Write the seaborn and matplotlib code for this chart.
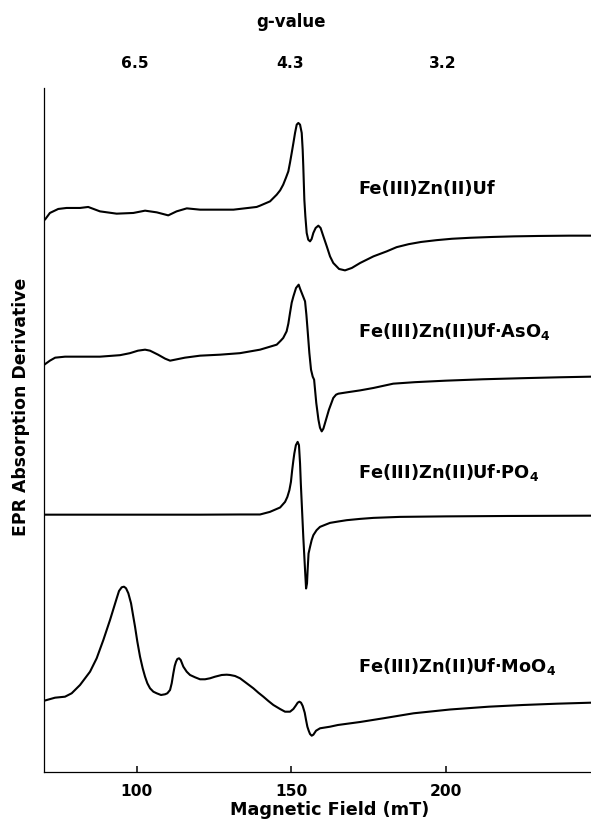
import numpy as np
import pandas as pd
import matplotlib
matplotlib.use("Agg")
import matplotlib.pyplot as plt
import seaborn as sns

# ---- data (field in mT, signal in arbitrary units) ----
field_uf = [70.3, 71.9, 74.6, 77.3, 81.65, 84.3, 88.1, 93.5, 98.9, 102.7, 106.5, 110.2,
            112.9, 116.2, 120.5, 131.3, 138.8, 139.9, 143.14, 145.3, 146.4, 147.4,
            148.3, 149.06, 149.6, 150.15, 150.7, 151.23, 151.77, 152.3, 152.85, 153.39,
            153.7, 153.9, 154.24, 154.57, 155.0, 155.5, 156.08, 156.6, 157.15, 157.9,
            158.77, 159.5, 160.4, 161.5, 162.55, 163.6, 165.47, 167.4, 169.6, 172.3,
            176.6, 180.9, 184.1, 188.0, 192.0, 197.0, 202.0, 208.0, 215.0, 222.0,
            230.0, 240.0, 247.0]
sig_uf = [16, 22.7, 26.7, 27.7, 27.7, 28.7, 24.3, 22, 22.7, 25, 23.3, 20.3,
          24.3, 27.3, 26, 26, 28.7, 30, 34.3, 41, 45.3, 51,
          58, 64.3, 73, 82.7, 92.7, 102.7, 111, 112.7, 111, 102.7,
          86, 69.3, 36, 19.3, 2.7, -4, -5.7, -3.3, 2.7, 7.7,
          10, 7.7, -0.7, -10.7, -20.7, -27.3, -33.3, -34.7, -32.3, -27.3,
          -20.7, -15.7, -11.5, -8.5, -6.3, -4.5, -3.1, -2.1, -1.3, -0.7,
          -0.3, 0, 0]

field_as = [70.1, 71.9, 73.6, 76.8, 81.7, 88.1, 94.6, 97.8, 100.4, 102.7, 104.3, 106.9,
            109.2, 110.8, 112.4, 115.6, 120.5, 127.0, 133.4, 139.9, 142.6, 145.3,
            146.6, 147.4, 148.5, 149.06, 149.6, 150.15, 150.7, 151.55, 152.4, 152.85,
            153.4, 154.47, 154.9, 155.2, 155.86, 156.4, 156.95, 157.4, 158.1, 158.8,
            159.3, 159.86, 160.4, 160.94, 162.2, 163.6, 164.5, 165.25, 167.95, 172.3,
            176.6, 183.0, 190.0, 200.0, 212.0, 225.0, 237.0, 247.0]
sig_as = [12, 16, 19, 20, 20, 20, 21.5, 23.5, 26, 27, 26, 22,
          18, 16, 17, 19, 21, 22, 23.5, 27, 29.5, 32,
          36, 38.7, 45.3, 53, 63.7, 74, 80.3, 88.7, 92, 88,
          83.7, 75.3, 62, 50.3, 23.7, 7, 0, -3, -26.3, -43,
          -51, -54.7, -52, -46.3, -33, -21.3, -18, -17, -15.7, -13.7,
          -11.3, -7, -5.5, -4, -2.6, -1.5, -0.6, 0]

field_po = [70.1, 88.1, 104.3, 120.5, 133.4, 139.9, 143.1, 146.4, 148.0, 148.75, 149.4,
            149.9, 150.3, 150.7, 151.0, 151.5, 152.07, 152.5, 152.85, 153.1, 153.4,
            153.9, 154.47, 154.8, 155.1, 155.3, 155.6, 156.08, 156.6, 157.15, 158.2,
            159.3, 160.9, 162.55, 165.25, 167.95, 172.3, 176.6, 185.2, 200.0, 220.0,
            247.0]
sig_po = [1, 1, 1, 1, 1.2, 1.2, 3.8, 8.2, 13.8, 18.8, 25.5,
          33.8, 45.5, 55.5, 62.2, 70.5, 73.8, 70.5, 52.2, 32.2, 12.2,
          -21.2, -54.5, -72.8, -67.8, -54.5, -37.8, -31.2, -24.5, -19.5, -14.5,
          -11.2, -9.2, -7.2, -5.8, -4.5, -3.2, -2.2, -1.2, -0.7, -0.3,
          0]

field_mo = [70.11, 73.56, 76.8, 78.95, 81.65, 84.89, 87.04, 89.2, 91.36, 93.52, 94.27,
            95.14, 95.89, 96.54, 97.29, 98.16, 98.8, 99.45, 100.2, 101.07, 101.93,
            102.69, 103.44, 104.3, 105.38, 106.46, 107.86, 109.16, 109.91, 110.78,
            111.32, 111.85, 112.29, 112.72, 113.15, 113.69, 114.23, 115.09, 116.17,
            117.25, 118.87, 120.49, 122.1, 123.72, 125.34, 127.5, 129.12, 130.19,
            131.81, 133.43, 135.59, 137.74, 139.36, 140.98, 142.6, 144.22, 146.38,
            147.99, 149.61, 150.69, 151.45, 152.09, 152.63, 153.17, 153.71, 154.36,
            154.79, 155.22, 155.65, 156.08, 156.62, 157.16, 158.03, 159.32, 162.56,
            165.1, 172.3, 180.0, 189.6, 201.4, 213.9, 225.0, 236.0, 247.0]
sig_mo = [2.0, 5.0, 6.0, 9.4, 17.7, 31.0, 44.4, 62.7, 82.7, 104.4, 111.7,
          115.4, 116.0, 114.4, 109.4, 99.4, 87.7, 76.0, 61.0, 46.0, 34.4,
          26.0, 19.4, 14.4, 11.0, 9.4, 7.7, 8.4, 9.4, 12.7,
          19.4, 29.4, 36.7, 41.0, 43.7, 44.4, 42.7, 36.0, 31.0,
          27.7, 25.4, 23.4, 23.4, 24.4, 26.0, 27.7, 28.0, 27.7,
          26.7, 24.4, 19.4, 14.4, 10.0, 6.0, 1.7, -2.3, -6.3,
          -9.0, -9.0, -6.3, -3.0, 0.0, 1.0, 0.0, -3.3, -10.0,
          -17.3, -24.0, -28.0, -31.3, -33.0, -32.0, -28.0, -25.6, -24.0,
          -22.3, -19.3, -15.5, -10.6, -6.8, -4.0, -2.3, -1.0, 0.0]

sample_names = ["Fe(III)Zn(II)Uf",
                r"Fe(III)Zn(II)Uf·AsO$_{\mathbf{4}}$",
                r"Fe(III)Zn(II)Uf·PO$_{\mathbf{4}}$",
                r"Fe(III)Zn(II)Uf·MoO$_{\mathbf{4}}$"]
trace_offsets = [536, 395, 256, 69]

field_ticks = [100, 150, 200]
g_labels = ["6.5", "4.3", "3.2"]
g_label_fields = [99.5, 149.5, 199.0]

# ---- style ----
sns.set_theme(style="ticks")
plt.rcParams['font.family'] = ['DejaVu Sans']
plt.rcParams['font.weight'] = 'bold'
plt.rcParams['mathtext.fontset'] = 'dejavusans'
for key in ['text.color', 'axes.labelcolor', 'xtick.color', 'ytick.color', 'axes.edgecolor']:
    plt.rcParams[key] = 'black'

fig = plt.figure(figsize=(5.91, 8.22), dpi=100)
ax = fig.add_axes([0.075, 0.0612, 0.925, 0.893 - 0.0612])

fields = [field_uf, field_as, field_po, field_mo]
signals = [sig_uf, sig_as, sig_po, sig_mo]
label_y = [582.7, 440.0, 298.7, 105.0]

for f, s, off, name, ly in zip(fields, signals, trace_offsets, sample_names, label_y):
    df = pd.DataFrame({"field": f, "signal": np.asarray(s, float) + off})
    sns.lineplot(data=df, x="field", y="signal", ax=ax, color="black",
                 linewidth=1.5, estimator=None, sort=False)
    ax.text(171.6, ly, name, fontsize=12.8, fontweight='bold',
            ha='left', va='center', color='black')

ax.set_xlim(70.1, 247.0)
ax.set_ylim(0, 683.7)

for side in ['top', 'right']:
    ax.spines[side].set_visible(False)
for side in ['left', 'bottom']:
    ax.spines[side].set_linewidth(0.9)
    ax.spines[side].set_color('black')

ax.set_yticks([])
ax.set_xticks(field_ticks)
ax.set_xticklabels([str(t) for t in field_ticks])
ax.xaxis.set_ticks_position('bottom')
ax.tick_params(axis='x', which='major', direction='in', length=4.5, width=1.1, color='black',
               labelcolor='black', labelsize=11.2, pad=8.7)
for lab in ax.get_xticklabels():
    lab.set_fontweight('bold')

ax.set_xlabel("Magnetic Field (mT)", fontsize=12.7, fontweight='bold', va='center', color='black')
ax.xaxis.set_label_coords(0.5226, -0.056)
ax.set_ylabel("EPR Absorption Derivative", fontsize=12.4, fontweight='bold', va='center', color='black')
ax.yaxis.set_label_coords(-0.0426, 0.534)

sec = ax.secondary_xaxis('top')
sec.set_xticks(g_label_fields)
sec.set_xticklabels(g_labels)
sec.tick_params(axis='x', length=0, pad=12, labelsize=11.2, labelcolor='black')
for lab in sec.get_xticklabels():
    lab.set_fontweight('bold')
sec.spines['top'].set_visible(False)
sec.set_xlabel("g-value", fontsize=12, fontweight='bold', va='center', color='black')
sec.xaxis.set_label_coords(0.451, 1.097, transform=ax.transAxes)

fig.savefig("out.png", dpi=100)
